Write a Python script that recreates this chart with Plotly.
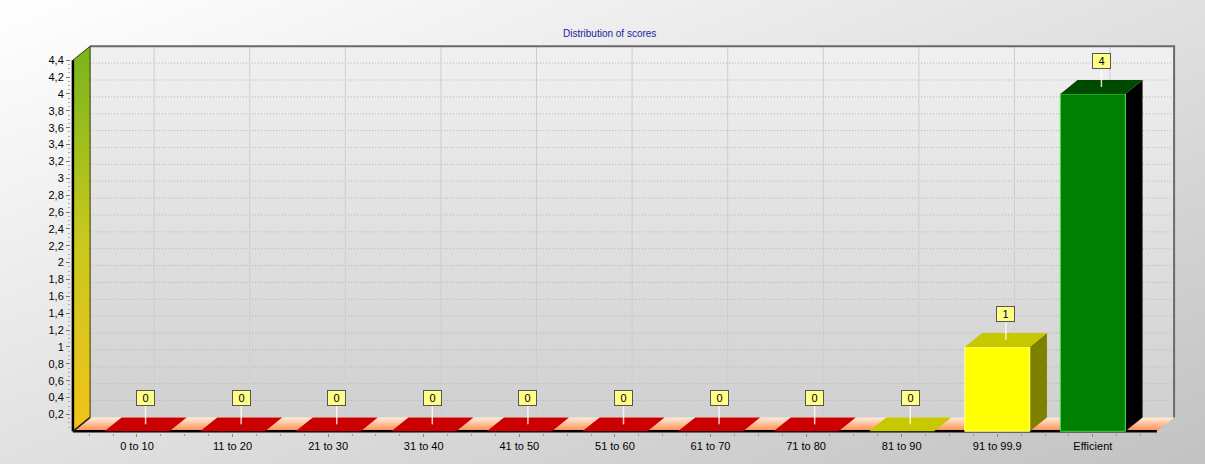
import base64
import plotly.graph_objects as go

# ---------------- data ----------------
categories = ["0 to 10", "11 to 20", "21 to 30", "31 to 40", "41 to 50", "51 to 60",
              "61 to 70", "71 to 80", "81 to 90", "91 to 99.9", "Efficient"]
values = [0, 0, 0, 0, 0, 0, 0, 0, 0, 1, 4]
bar_groups = ["red", "red", "red", "red", "red", "red", "red", "red", "yellow", "yellow", "green"]
y_ticks = [0.2, 0.4, 0.6, 0.8, 1.0, 1.2, 1.4, 1.6, 1.8, 2.0, 2.2, 2.4, 2.6, 2.8, 3.0,
           3.2, 3.4, 3.6, 3.8, 4.0, 4.2, 4.4]
title_text = "Distribution of scores"

# ---------------- styles ----------------
PALETTE = {
    "red": dict(front="#ff0000", top="#cc0000", side="#990000", edge="#ff6060"),
    "yellow": dict(front="#ffff00", top="#c8c800", side="#808000", edge="#ffff90"),
    "green": dict(front="#008000", top="#004a00", side="#000000", edge="#50e050"),
}
DX, DY = 0.18, 0.165      # pseudo-3D depth offsets (data units)
BW = 0.68                 # bar width
XL, XR = -0.67, 10.67     # front floor extents
YMAX = 4.4

fig = go.Figure()

def poly(xs, ys, color=None, line_color=None, lw=0, grad=None):
    kw = dict(x=list(xs) + [xs[0]], y=list(ys) + [ys[0]], mode="lines", fill="toself",
              hoverinfo="skip", showlegend=False,
              line=dict(color=line_color or "rgba(0,0,0,0)", width=lw))
    if grad:
        kw["fillgradient"] = dict(type="vertical", colorscale=grad)
        kw["fillcolor"] = grad[-1][1]
    else:
        kw["fillcolor"] = color
    fig.add_trace(go.Scatter(**kw))

def line(xs, ys, color, width=1, dash=None):
    fig.add_trace(go.Scatter(x=xs, y=ys, mode="lines", hoverinfo="skip", showlegend=False,
                             line=dict(color=color, width=width, dash=dash)))

# back wall
poly([XL + DX, XR + DX, XR + DX, XL + DX], [DY, DY, YMAX + DY, YMAX + DY],
     grad=[[0, "#d0d0d0"], [1, "#f0f0f0"]])

# horizontal grid lines on back wall
gx, gy = [], []
for v in y_ticks:
    gx += [XL + DX, XR + DX, None]
    gy += [v + DY, v + DY, None]
line(gx, gy, "#b4b4b4", 1, "1px,2px")
# vertical grid lines on back wall
vx, vy = [], []
for i in range(len(categories)):
    vx += [i + DX, i + DX, None]
    vy += [DY, YMAX + DY, None]
line(vx, vy, "#cdcdcd", 1)

# back wall border (top and right)
line([XL + DX, XR + DX, XR + DX], [YMAX + DY, YMAX + DY, DY], "#6a6a6a", 2)

# floor
poly([XL, XR, XR + DX, XL + DX], [0, 0, DY, DY],
     grad=[[0, "#ff8a4c"], [1, "#ffeede"]])
# black front base line
line([XL, XR], [0, 0], "#000000", 2.5)

# bars
for i, (v, g) in enumerate(zip(values, bar_groups)):
    c = PALETTE[g]
    x0, x1 = i - BW / 2, i + BW / 2
    if v > 0:
        poly([x1, x1 + DX, x1 + DX, x1], [0, DY, v + DY, v], c["side"])
        poly([x0, x1, x1, x0], [0, 0, v, v], c["front"], c["edge"], 1)
    poly([x0, x1, x1 + DX, x0 + DX], [v, v, v + DY, v + DY], c["top"])

# left wall
poly([XL, XL, XL + DX, XL + DX], [0, YMAX, YMAX + DY, DY],
     grad=[[0, "#f2c21a"], [0.5, "#c8c81e"], [1, "#78b41c"]], line_color="#3a3a00", lw=1)
line([XL, XL], [0, YMAX], "#000000", 2.5)
line([XL, XL + DX], [0, DY], "#222222", 1.5)

# value label connectors + labels
for i, v in enumerate(values):
    cx = i + DX / 2
    line([cx, cx], [v + DY / 2, v + 0.3], "rgba(255,255,255,0.8)", 1.5)
    fig.add_annotation(x=cx, y=v + 0.39, xref="x", yref="y", text=str(v), showarrow=False,
                       bgcolor="#ffff88", bordercolor="#555555", borderwidth=1, borderpad=1,
                       width=15, height=12, font=dict(size=11, color="#000000", family="Arial"))

# layout geometry
L, R, T, B = 71, 29, 45, 31
pw, ph = 1205 - L - R, 464 - T - B

# title
fig.add_annotation(x=(609 - L) / pw, y=1 + (T - 33) / ph, xref="paper", yref="paper",
                   text=title_text, showarrow=False,
                   font=dict(size=10, color="#1a1aa0", family="Arial"),
                   xanchor="center", yanchor="middle")

# background gradient (whole page)
svg = ('<svg xmlns="http://www.w3.org/2000/svg" width="1205" height="464">'
       '<defs><linearGradient id="g" x1="0" y1="0" x2="1" y2="1">'
       '<stop offset="0" stop-color="#ffffff"/><stop offset="1" stop-color="#c2c2c2"/>'
       '</linearGradient></defs><rect width="1205" height="464" fill="url(#g)"/></svg>')
src = "data:image/svg+xml;base64," + base64.b64encode(svg.encode()).decode()
fig.add_layout_image(source=src, xref="paper", yref="paper", x=-L / pw, y=1 + T / ph,
                     sizex=1205 / pw, sizey=464 / ph, sizing="stretch", layer="below",
                     xanchor="left", yanchor="top")

y_minor = [round(k * 0.05, 2) for k in range(1, 89)]
x_minor = [round(k * 0.25, 2) for k in range(-2, 43)]

fig.update_layout(
    width=1205, height=464, margin=dict(l=L, r=R, t=T, b=B),
    paper_bgcolor="#dcdcdc", plot_bgcolor="rgba(0,0,0,0)",
    font=dict(family="Arial", size=11, color="#000000"),
    showlegend=False,
    xaxis=dict(range=[-0.69, 10.87], tickvals=list(range(len(categories))), ticktext=categories,
               showgrid=False, zeroline=False, showline=False, ticks="outside", ticklen=3,
               tickcolor="#888888", tickfont=dict(size=11, color="#000000"),
               minor=dict(tickvals=x_minor, ticks="outside", ticklen=2, tickcolor="#999999"),
               fixedrange=True),
    yaxis=dict(range=[-0.02, 4.58], tickvals=y_ticks,
               ticktext=[f"{t:g}".replace(".", ",") for t in y_ticks],
               showgrid=False, zeroline=False, showline=False, ticks="outside", ticklen=4,
               tickcolor="#777777", tickfont=dict(size=11, color="#000000"),
               minor=dict(tickvals=y_minor, ticks="outside", ticklen=2, tickcolor="#aaaaaa"),
               fixedrange=True),
)

fig.write_html("out.html")
